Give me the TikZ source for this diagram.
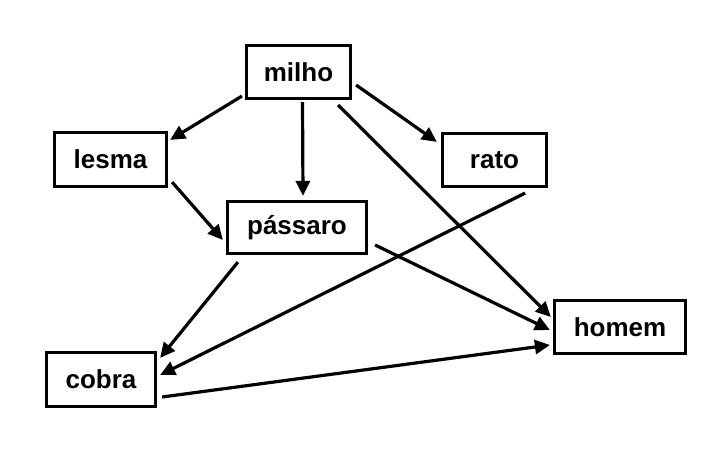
\documentclass[tikz,border=0pt]{standalone}
\usepackage{fontspec}
\setmainfont{Liberation Sans}
\usetikzlibrary{arrows.meta,calc}
\begin{document}
\begin{tikzpicture}[x=1pt,y=-1pt,
  box/.style={draw=black,line width=3.2pt,fill=white,inner sep=0pt,
    font=\fontsize{26}{30}\selectfont\bfseries},
  arr/.style={line width=3.2pt,-{Triangle[length=15pt,width=14pt]}}]
\useasboundingbox[fill=white] (0,0) rectangle (720,466);
\node[box,minimum width=104pt,minimum height=53pt] (milho) at (298.5,72) {milho};
\node[box,minimum width=112pt,minimum height=54pt] (lesma) at (110.5,159.5) {lesma};
\node[box,minimum width=139pt,minimum height=52pt] (passaro) at (297,227.5) {pássaro};
\node[box,minimum width=104pt,minimum height=53pt] (rato) at (494.5,160) {rato};
\node[box,minimum width=109pt,minimum height=54pt] (cobra) at (101,379.5) {cobra};
\node[box,minimum width=131pt,minimum height=53pt] (homem) at (620,327) {homem};
\draw[arr] ($(milho.south west)+(-3,-4)$) -- ($(lesma.north east)+(2,9)$);
\draw[arr] ($(milho.south)+(4,2)$) -- ($(passaro.north)+(6,-4)$);
\draw[arr] ($(milho.east)+(4,13)$) -- ($(rato.north west)+(-4,10)$);
\draw[arr] ($(milho.south east)+(-14,5)$) -- ($(homem.west)+(-2,-10)$);
\draw[arr] ($(lesma.south east)+(4,-6)$) -- ($(passaro.west)+(-3,12.5)$);
\draw[arr] ($(passaro.south west)+(12,7)$) -- ($(cobra.north east)+(3,7)$);
\draw[arr] ($(rato.south east)+(-23,5)$) -- ($(cobra.east)+(3,-4.5)$);
\draw[arr] ($(passaro.east)+(7,17.5)$) -- ($(homem.west)+(-3,3)$);
\draw[arr] ($(cobra.east)+(5,17.5)$) -- ($(homem.west)+(-3,18)$);
\end{tikzpicture}
\end{document}
